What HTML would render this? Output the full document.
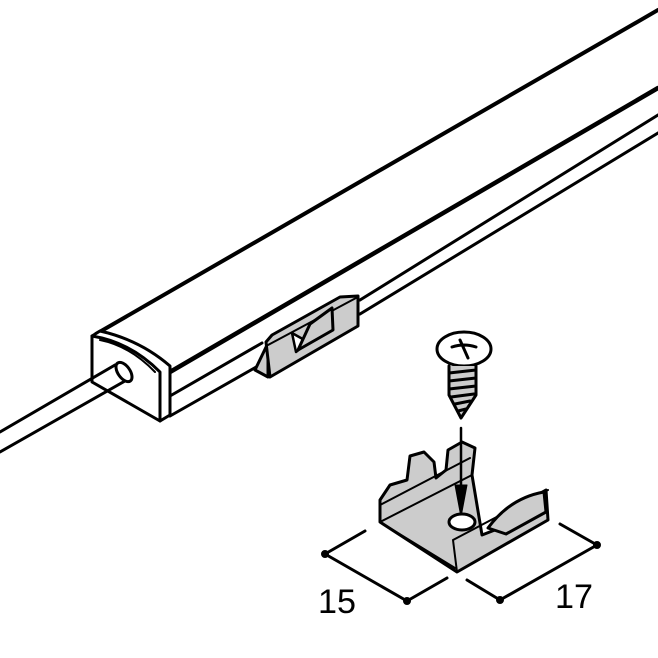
<!DOCTYPE html>
<html><head><meta charset="utf-8"><style>
html,body{margin:0;padding:0;background:#fff;width:658px;height:658px;overflow:hidden}
svg{display:block}
text{font-family:"Liberation Sans",sans-serif;font-size:34px;fill:#000}
</style></head><body>
<svg width="658" height="658" viewBox="0 0 658 658" xmlns="http://www.w3.org/2000/svg" fill="none" stroke="#000" stroke-linejoin="round" stroke-linecap="round">
<line x1="96" y1="334" x2="658" y2="10" stroke-width="4"/>
<line x1="170" y1="372" x2="658" y2="88" stroke-width="4.5"/>
<line x1="170" y1="396" x2="262" y2="343" stroke-width="3"/>
<line x1="360" y1="300" x2="658" y2="115" stroke-width="3"/>
<line x1="170" y1="416" x2="258" y2="366" stroke-width="3"/>
<line x1="360" y1="314" x2="658" y2="133" stroke-width="3"/>
<path d="M92,336 L100,331 Q140,340 170,366 L170,415 L160,421 Z" fill="#fff" stroke-width="3"/>
<path d="M92,336 Q130,342 160,372 L160,421 L92,382 Z" fill="#fff" stroke-width="3"/>
<path d="M100,340 Q130,346 155,372" stroke-width="2"/>
<line x1="0" y1="432" x2="115" y2="365" stroke-width="3"/>
<line x1="0" y1="452" x2="125" y2="381" stroke-width="3"/>
<ellipse cx="124" cy="372" rx="6" ry="11" transform="rotate(-35 124 372)" fill="#fff" stroke-width="3"/>
<path d="M255,370 L268,343 L268,377 Z" fill="#ccc" stroke-width="3"/>
<path d="M266,342 L272,335 L340,297 L358,296 L358,326 L270,377 Z" fill="#ccc" stroke-width="3"/>
<path d="M268,345 L356,298" stroke-width="2"/>
<path d="M292,333 L296,352 L308,342 Z" fill="#fff" stroke-width="2.5"/>
<path d="M298,350 L310,324 L332,308 L333,330 Z" fill="#ccc" stroke-width="3"/>
<ellipse cx="464" cy="349" rx="27" ry="17" fill="#fff" stroke-width="3"/>
<path d="M452,347 Q464,343 476,347 M460,340 Q464,349 468,358" stroke-width="3"/>
<path d="M449,366 L449,395 L461,418 L476,395 L476,366" fill="#ccc" stroke-width="3"/>
<path d="M449,373 L476,370 M449,381 L476,378 M449,389 L476,386 M451,397 L474,394 M455,404 L470,401 M458,411 L466,409" stroke-width="3"/>
<path d="M380,500 L380,522 L457,572 L548,520 L546,490 L528,500 L512,512 L500,528 L482,535 L472,475 L475,448 L462,442 L448,450 L446,470 L436,478 L434,462 L424,452 L410,456 L407,480 L390,485 Z" fill="#ccc" stroke-width="3"/>
<path d="M380,522 L472,475 M380,505 L470,458 M380,522 L455,568 M453,540 L457,572 M453,540 L548,490" stroke-width="2"/>
<line x1="461" y1="428" x2="461" y2="500" stroke-width="2.5"/>
<path d="M455,485 L461,517 L467,485 Z" fill="#000" stroke-width="1"/>
<ellipse cx="462" cy="522" rx="13" ry="8" fill="#fff" stroke-width="3"/>
<path d="M488,528 Q510,498 544,492 L546,512 L506,534 Z" fill="#ccc" stroke-width="3"/>
<line x1="325" y1="554" x2="407" y2="601" stroke-width="3"/>
<line x1="325" y1="554" x2="365" y2="531" stroke-width="3"/>
<line x1="407" y1="601" x2="447" y2="578" stroke-width="3"/>
<line x1="500" y1="600" x2="597" y2="545" stroke-width="3"/>
<line x1="467" y1="580" x2="500" y2="600" stroke-width="3"/>
<line x1="560" y1="524" x2="597" y2="545" stroke-width="3"/>
<circle cx="325" cy="554" r="3.5" fill="#000"/>
<circle cx="407" cy="601" r="3.5" fill="#000"/>
<circle cx="500" cy="600" r="3.5" fill="#000"/>
<circle cx="597" cy="545" r="3.5" fill="#000"/>
<text x="318" y="613" stroke="none" textLength="38" lengthAdjust="spacingAndGlyphs">15</text>
<text x="555" y="608" stroke="none" textLength="38" lengthAdjust="spacingAndGlyphs">17</text>
</svg>
</body></html>
